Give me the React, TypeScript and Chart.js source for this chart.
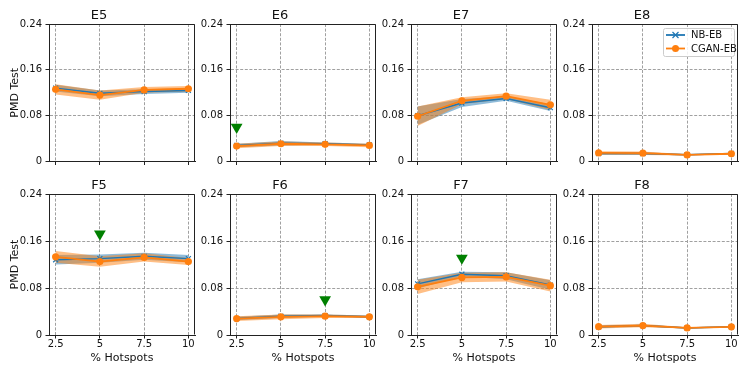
import React, { useEffect, useRef } from 'react';
import { Chart, registerables } from 'chart.js';

Chart.register(...registerables);

// ---------------- data ----------------
const xValues = [2.5, 5, 7.5, 10];
const xTickLabels = ['2.5', '5', '7.5', '10'];
const yTicks = [0, 0.08, 0.16, 0.24];
const yTickLabels = ['0', '0.08', '0.16', '0.24'];
const panelTitles = ['E5', 'E6', 'E7', 'E8', 'F5', 'F6', 'F7', 'F8'];
const seriesLabels = ['NB-EB', 'CGAN-EB'];
const yAxisTitle = 'PMD Test';
const xAxisTitle = '% Hotspots';

const nbMean = [
  [0.128, 0.119, 0.122, 0.124],
  [0.028, 0.032, 0.031, 0.029],
  [0.080, 0.102, 0.110, 0.094],
  [0.014, 0.014, 0.012, 0.014],
  [0.128, 0.130, 0.134, 0.130],
  [0.028, 0.032, 0.033, 0.031],
  [0.087, 0.1035, 0.101, 0.085],
  [0.014, 0.016, 0.012, 0.014],
];
const nbStd = [
  [0.006, 0.005, 0.004, 0.004],
  [0.003, 0.004, 0.002, 0.002],
  [0.016, 0.007, 0.004, 0.006],
  [0.002, 0.002, 0.001, 0.001],
  [0.008, 0.007, 0.006, 0.006],
  [0.003, 0.003, 0.002, 0.002],
  [0.008, 0.004, 0.006, 0.008],
  [0.002, 0.002, 0.001, 0.001],
];
const cganMean = [
  [0.126, 0.116, 0.125, 0.127],
  [0.027, 0.031, 0.030, 0.028],
  [0.079, 0.106, 0.114, 0.099],
  [0.015, 0.0145, 0.0115, 0.0135],
  [0.133, 0.125, 0.132, 0.125],
  [0.028, 0.031, 0.032, 0.031],
  [0.082, 0.098, 0.099, 0.084],
  [0.0142, 0.016, 0.012, 0.014],
];
const cganStd = [
  [0.009, 0.008, 0.005, 0.005],
  [0.004, 0.004, 0.003, 0.003],
  [0.017, 0.006, 0.005, 0.009],
  [0.003, 0.003, 0.001, 0.001],
  [0.010, 0.009, 0.007, 0.006],
  [0.004, 0.004, 0.003, 0.002],
  [0.012, 0.008, 0.008, 0.010],
  [0.003, 0.003, 0.001, 0.001],
];
// green "best" markers (null = none)
const markerX: (number | null)[] = [null, 2.5, null, null, 5, 7.5, 5, null];
const markerY: (number | null)[] = [null, 0.06, null, null, 0.172, 0.06, 0.131, null];

// ---------------- layout / style ----------------
const FONT = "'DejaVu Sans', 'Liberation Sans', sans-serif";
const BLUE = '#1f77b4';
const ORANGE = '#ff7f0e';
const GREEN = '#008000';
const colLeft = [49, 230, 411, 592];
const rowTop = [24, 194];
const PW = 146;
const PH = 141;
const PAD_L = 46;
const PAD_R = 10;
const PAD_T = 21;
const PAD_B = [6, 34];

const boxPlugin = {
  id: 'boxFrame',
  afterDraw(chart: any) {
    const { ctx, chartArea } = chart;
    const t = Math.round(chartArea.top) + 0.5;
    const r = Math.round(chartArea.right) - 0.5;
    const b = Math.round(chartArea.bottom) - 0.5;
    const l = Math.round(chartArea.left) + 0.5;
    ctx.save();
    ctx.strokeStyle = '#222';
    ctx.lineWidth = 1;
    ctx.beginPath();
    ctx.moveTo(l, t);
    ctx.lineTo(r, t);
    ctx.lineTo(r, b);
    ctx.stroke();
    ctx.restore();
  },
};

const legendPlugin = {
  id: 'innerLegend',
  afterDraw(chart: any) {
    if (!chart.options.plugins.innerLegend?.show) return;
    const { ctx, chartArea } = chart;
    const w = 71;
    const h = 28;
    const x = chartArea.right - 4 - w;
    const y = chartArea.top + 4;
    ctx.save();
    ctx.fillStyle = 'rgba(255,255,255,0.85)';
    ctx.strokeStyle = '#cccccc';
    ctx.lineWidth = 1;
    ctx.beginPath();
    (ctx as any).roundRect(Math.round(x) + 0.5, Math.round(y) + 0.5, w, h, 2);
    ctx.fill();
    ctx.stroke();
    const entries = [
      { label: seriesLabels[0], color: BLUE, marker: 'x' },
      { label: seriesLabels[1], color: ORANGE, marker: 'o' },
    ];
    entries.forEach((e, i) => {
      const cy = y + 7 + i * 13.5;
      const lx1 = x + 3;
      const lx2 = x + 22;
      ctx.strokeStyle = e.color;
      ctx.lineWidth = 1.8;
      ctx.beginPath();
      ctx.moveTo(lx1, cy);
      ctx.lineTo(lx2, cy);
      ctx.stroke();
      const mx = (lx1 + lx2) / 2;
      if (e.marker === 'x') {
        ctx.lineWidth = 1.2;
        ctx.beginPath();
        ctx.moveTo(mx - 3, cy - 3);
        ctx.lineTo(mx + 3, cy + 3);
        ctx.moveTo(mx - 3, cy + 3);
        ctx.lineTo(mx + 3, cy - 3);
        ctx.stroke();
      } else {
        ctx.fillStyle = e.color;
        ctx.beginPath();
        ctx.arc(mx, cy, 3.5, 0, Math.PI * 2);
        ctx.fill();
      }
      ctx.fillStyle = '#111';
      ctx.font = `10px ${FONT}`;
      ctx.textBaseline = 'middle';
      ctx.textAlign = 'left';
      ctx.fillText(e.label, x + 28, cy + 0.5);
    });
    ctx.restore();
  },
};

function Panel({ idx }: { idx: number }) {
  const ref = useRef<HTMLCanvasElement | null>(null);
  const row = Math.floor(idx / 4);
  const col = idx % 4;
  const left = colLeft[col] - PAD_L;
  const top = rowTop[row] - PAD_T;
  const width = PW + PAD_L + PAD_R;
  const height = PH + PAD_T + PAD_B[row];

  useEffect(() => {
    const canvas = ref.current;
    if (!canvas) return;
    const pts = (ys: number[]) => xValues.map((x, i) => ({ x, y: ys[i] }));
    const nbU = nbMean[idx].map((m, i) => m + nbStd[idx][i]);
    const nbL = nbMean[idx].map((m, i) => m - nbStd[idx][i]);
    const cgU = cganMean[idx].map((m, i) => m + cganStd[idx][i]);
    const cgL = cganMean[idx].map((m, i) => m - cganStd[idx][i]);
    const band = (data: any, fill: any, color: string, order: number) => ({
      label: '',
      data,
      fill,
      backgroundColor: color,
      borderWidth: 0,
      borderColor: 'transparent',
      pointRadius: 0,
      tension: 0,
      order,
    });
    const datasets: any[] = [
      band(pts(nbU), 1, 'rgba(31,119,180,0.5)', 6),
      band(pts(nbL), false, 'transparent', 7),
      band(pts(cgU), 3, 'rgba(255,127,14,0.5)', 4),
      band(pts(cgL), false, 'transparent', 5),
      {
        label: seriesLabels[0],
        data: pts(nbMean[idx]),
        borderColor: BLUE,
        backgroundColor: BLUE,
        borderWidth: 1.5,
        pointStyle: 'crossRot',
        pointRadius: 3.5,
        pointBorderWidth: 1.2,
        pointBorderColor: BLUE,
        fill: false,
        tension: 0,
        order: 2,
      },
      {
        label: seriesLabels[1],
        data: pts(cganMean[idx]),
        borderColor: ORANGE,
        backgroundColor: ORANGE,
        borderWidth: 1.8,
        pointStyle: 'circle',
        pointRadius: 3.6,
        pointBorderWidth: 0,
        pointBackgroundColor: ORANGE,
        fill: false,
        tension: 0,
        order: 1,
      },
    ];
    if (markerX[idx] !== null && markerY[idx] !== null) {
      datasets.push({
        label: 'best',
        data: [{ x: markerX[idx], y: markerY[idx] }],
        showLine: false,
        pointStyle: 'triangle',
        rotation: 180,
        pointRadius: 6.8,
        backgroundColor: GREEN,
        borderColor: GREEN,
        pointBorderWidth: 0,
        order: 0,
      });
    }

    const chart = new Chart(canvas, {
      type: 'line',
      data: { datasets },
      plugins: [boxPlugin, legendPlugin],
      options: {
        animation: false,
        responsive: false,
        devicePixelRatio: 1,
        layout: { padding: { left: 0, right: PAD_R, top: 0, bottom: 0 } },
        plugins: {
          legend: { display: false },
          tooltip: { enabled: false },
          title: {
            display: true,
            text: panelTitles[idx],
            color: '#111',
            font: { family: FONT, size: 13, weight: 'normal', lineHeight: '16px' } as any,
            padding: { top: 5, bottom: 0 },
          },
          innerLegend: { show: idx === 3 },
        } as any,
        scales: {
          x: {
            type: 'linear',
            min: 2.125,
            max: 10.375,
            afterBuildTicks: (s: any) => {
              s.ticks = xValues.map((v) => ({ value: v }));
            },
            afterFit: (s: any) => {
              s.height = PAD_B[row];
            },
            ticks: {
              display: row === 1,
              autoSkip: false,
              maxRotation: 0,
              padding: 0,
              color: '#111',
              font: { family: FONT, size: 10 },
              callback: (_v: any, i: number) => xTickLabels[i],
            },
            grid: {
              color: '#a0a0a0',
              lineWidth: 1,
              drawTicks: true,
              tickLength: 3.5,
              tickColor: '#222',
              tickWidth: 1,
              tickBorderDash: [],
            },
            border: { display: true, color: '#222', width: 1, dash: [3, 1.6] },
            title: {
              display: row === 1,
              text: xAxisTitle,
              color: '#111',
              font: { family: FONT, size: 11, lineHeight: '13px' } as any,
              padding: { top: 0, bottom: 4 },
            },
          },
          y: {
            type: 'linear',
            min: 0,
            max: 0.24,
            afterBuildTicks: (s: any) => {
              s.ticks = yTicks.map((v) => ({ value: v }));
            },
            afterFit: (s: any) => {
              s.width = PAD_L;
            },
            ticks: {
              autoSkip: false,
              padding: 3.5,
              color: '#111',
              font: { family: FONT, size: 10 },
              callback: (_v: any, i: number) => yTickLabels[i],
            },
            grid: {
              color: '#a0a0a0',
              lineWidth: 1,
              drawTicks: true,
              tickLength: 3.5,
              tickColor: '#222',
              tickWidth: 1,
              tickBorderDash: [],
            },
            border: { display: true, color: '#222', width: 1, dash: [3, 1.6] },
            title: {
              display: col === 0,
              text: yAxisTitle,
              color: '#111',
              font: { family: FONT, size: 11, lineHeight: '13px' } as any,
              padding: { top: 5.5, bottom: 0 },
            },
          },
        },
      } as any,
    });
    return () => chart.destroy();
  }, [idx]);

  return (
    <canvas
      ref={ref}
      width={width}
      height={height}
      style={{ position: 'absolute', left, top, width, height }}
    />
  );
}

export default function App() {
  return (
    <div
      style={{
        position: 'absolute',
        left: 0,
        top: 0,
        width: 747,
        height: 374,
        background: '#fff',
        overflow: 'hidden',
      }}
    >
      {panelTitles.map((_, i) => (
        <Panel key={i} idx={i} />
      ))}
    </div>
  );
}
